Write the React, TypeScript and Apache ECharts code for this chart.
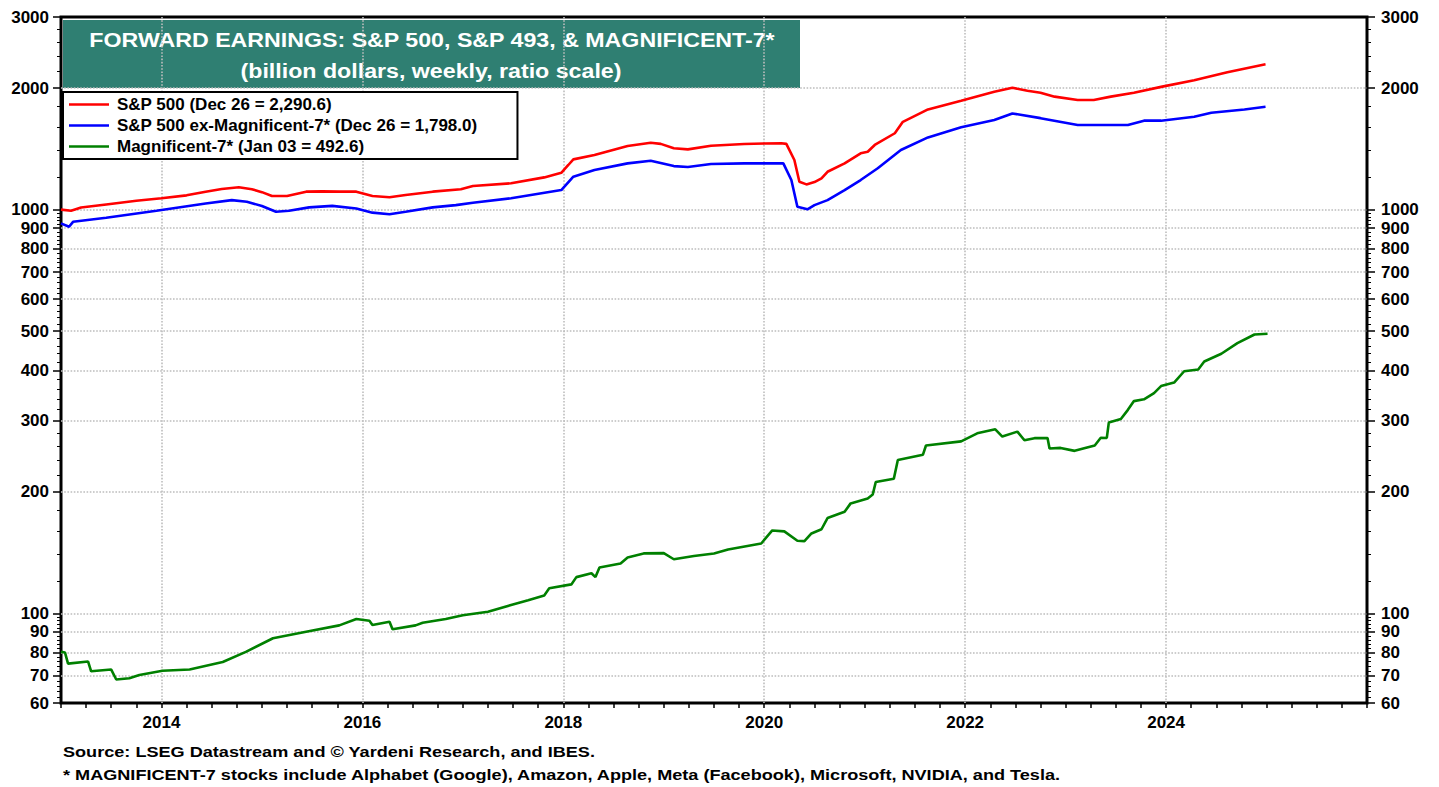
import React, { useEffect, useRef } from "react";
import * as echarts from "echarts";

// ---------- DATA (decimal years, billion dollars) ----------
const spxYears = [2013.0, 2013.1, 2013.2, 2013.45, 2013.75, 2014.0, 2014.25, 2014.44, 2014.6, 2014.77, 2014.9, 2015.0, 2015.1, 2015.25, 2015.44, 2015.6, 2015.77, 2015.94, 2016.1, 2016.27, 2016.43, 2016.7, 2016.98, 2017.1, 2017.48, 2017.81, 2017.98, 2018.05, 2018.1, 2018.31, 2018.64, 2018.87, 2018.97, 2019.1, 2019.24, 2019.47, 2019.8, 2020.0, 2020.17, 2020.22, 2020.3, 2020.35, 2020.42, 2020.5, 2020.57, 2020.63, 2020.8, 2020.96, 2021.03, 2021.1, 2021.3, 2021.38, 2021.63, 2021.96, 2022.29, 2022.47, 2022.62, 2022.75, 2022.89, 2023.12, 2023.28, 2023.45, 2023.68, 2023.95, 2024.28, 2024.61, 2024.99];
const spxValues = [1000, 994, 1012, 1030, 1052, 1067, 1085, 1108, 1125, 1136, 1123, 1105, 1081, 1081, 1108, 1110, 1108, 1108, 1081, 1073, 1087, 1108, 1123, 1144, 1162, 1202, 1234, 1290, 1332, 1365, 1438, 1464, 1455, 1419, 1410, 1440, 1454, 1458, 1460, 1455, 1327, 1172, 1155, 1170, 1195, 1241, 1302, 1379, 1391, 1446, 1546, 1650, 1771, 1860, 1958, 2003, 1970, 1948, 1905, 1869, 1869, 1905, 1948, 2014, 2091, 2190, 2290.6];

const exYears = [2013.0, 2013.08, 2013.12, 2013.45, 2013.95, 2014.44, 2014.7, 2014.85, 2015.0, 2015.14, 2015.27, 2015.47, 2015.7, 2015.94, 2016.1, 2016.27, 2016.43, 2016.7, 2016.93, 2017.1, 2017.48, 2017.98, 2018.1, 2018.31, 2018.64, 2018.87, 2019.1, 2019.24, 2019.47, 2019.8, 2020.19, 2020.27, 2020.33, 2020.43, 2020.5, 2020.63, 2020.8, 2020.96, 2021.13, 2021.36, 2021.63, 2021.96, 2022.29, 2022.47, 2022.75, 2023.12, 2023.45, 2023.62, 2023.78, 2023.95, 2024.28, 2024.45, 2024.78, 2024.99];
const exValues = [925, 907, 933, 955, 994, 1036, 1056, 1046, 1021, 988, 994, 1013, 1022, 1007, 983, 974, 988, 1013, 1026, 1040, 1067, 1118, 1207, 1253, 1302, 1322, 1282, 1275, 1297, 1302, 1302, 1184, 1017, 1002, 1026, 1056, 1118, 1184, 1266, 1405, 1510, 1599, 1667, 1731, 1685, 1621, 1621, 1621, 1661, 1661, 1699, 1737, 1771, 1798.0];

const magYears = [2013.0, 2013.04, 2013.07, 2013.27, 2013.3, 2013.5, 2013.55, 2013.68, 2013.78, 2014.01, 2014.28, 2014.61, 2014.84, 2015.11, 2015.44, 2015.77, 2015.94, 2016.07, 2016.1, 2016.27, 2016.3, 2016.53, 2016.6, 2016.83, 2017.0, 2017.25, 2017.48, 2017.65, 2017.81, 2017.86, 2018.08, 2018.13, 2018.28, 2018.32, 2018.36, 2018.57, 2018.64, 2018.8, 2019.0, 2019.1, 2019.3, 2019.5, 2019.64, 2019.97, 2020.08, 2020.2, 2020.33, 2020.4, 2020.47, 2020.57, 2020.63, 2020.8, 2020.86, 2021.03, 2021.08, 2021.11, 2021.29, 2021.33, 2021.58, 2021.61, 2021.96, 2022.12, 2022.3, 2022.37, 2022.52, 2022.59, 2022.69, 2022.82, 2022.84, 2022.95, 2023.09, 2023.29, 2023.35, 2023.41, 2023.43, 2023.55, 2023.62, 2023.68, 2023.78, 2023.88, 2023.95, 2024.08, 2024.18, 2024.32, 2024.38, 2024.55, 2024.71, 2024.88, 2025.01];
const magValues = [80.3, 80, 75.1, 76, 71.9, 72.6, 68.6, 69.1, 70.4, 72.1, 72.6, 75.8, 80.3, 86.8, 90.1, 93.4, 96.9, 95.9, 93.6, 95.4, 91.4, 93.4, 94.8, 96.9, 99, 101, 104.9, 107.8, 110.8, 115.4, 118, 123, 125.7, 123, 130, 133, 137.6, 140.8, 141, 136.2, 138.8, 140.8, 144, 149, 160.5, 159.7, 151.4, 151, 157.8, 161.6, 172.3, 178.5, 187.3, 192.6, 197, 211.5, 215.5, 240, 247.3, 260.5, 266.8, 279.3, 285.7, 274.1, 282, 268.4, 271.7, 272, 256.2, 257, 252.7, 260.5, 272.3, 272, 296.9, 303, 319.3, 335.6, 339, 351.3, 365.7, 373, 397.9, 401.7, 420.6, 439.6, 466.9, 490.7, 492.6];

const seriesNames = [
  "S&P 500 (Dec 26 = 2,290.6)",
  "S&P 500 ex-Magnificent-7* (Dec 26 = 1,798.0)",
  "Magnificent-7* (Jan 03 = 492.6)",
];
const seriesColors = ["#ff0000", "#0000ff", "#008000"];

const xMin = 2013;
const xMax = 2026;
const yMin = 60;
const yMax = 3000;
const yearLabels = [2014, 2016, 2018, 2020, 2022, 2024];
const yLabels = [60, 70, 80, 90, 100, 200, 300, 400, 500, 600, 700, 800, 900, 1000, 2000, 3000];
const yGrid = [70, 80, 90, 100, 200, 300, 400, 500, 600, 700, 800, 900, 1000, 2000];

const titleLine1 = "FORWARD EARNINGS: S&P 500, S&P 493, & MAGNIFICENT-7*";
const titleLine2 = "(billion dollars, weekly, ratio scale)";
const footLine1 = "Source: LSEG Datastream and \u00A9 Yardeni Research, and IBES.";
const footLine2 = "* MAGNIFICENT-7 stocks include Alphabet (Google), Amazon, Apple, Meta (Facebook), Microsoft, NVIDIA, and Tesla.";

// minor tick positions on the ratio scale
const yMinor: number[] = [];
for (let v = 62; v < 100; v += 2) if (!yLabels.includes(v)) yMinor.push(v);
for (let v = 120; v < 1000; v += 20) if (!yLabels.includes(v)) yMinor.push(v);
for (let v = 1200; v < 3000; v += 200) if (!yLabels.includes(v)) yMinor.push(v);

const FONT = 'Arial, "Liberation Sans", Helvetica, sans-serif';
const GRID_LINE = { color: "#bdbdbd", width: 1.6, type: "dotted" as const };

export default function App() {
  const ref = useRef<HTMLDivElement>(null);

  useEffect(() => {
    if (!ref.current) return;
    const chart = echarts.init(ref.current, undefined, { renderer: "svg" });

    const zip = (xs: number[], ys: number[]) => xs.map((x, i) => [x, ys[i]]);

    const baseY = {
      type: "log" as const,
      logBase: 10,
      min: yMin,
      max: yMax,
      splitLine: { show: false },
      axisLine: { show: false },
    };
    const labelStyle = {
      color: "#000",
      fontSize: 17,
      fontWeight: "bold" as const,
      fontFamily: FONT,
    };

    const hiddenParts = {
      axisLine: { show: false },
      axisTick: { show: false },
      axisLabel: { show: false },
      splitLine: { show: true, showMinLine: false, showMaxLine: false, lineStyle: GRID_LINE },
    };

    // Horizontal gridlines: a ratio-scale axis over the same 60..3000 range whose log base is
    // the gridline value, so its only interior tick (base^1) falls exactly on that value.
    const hGridAxes = yGrid.map((v) => ({
      type: "log" as const,
      logBase: v,
      min: yMin,
      max: yMax,
      splitNumber: 5,
      position: "left" as const,
      ...hiddenParts,
    }));

    // Vertical gridlines: for each labelled year, a helper ratio axis whose single interior
    // tick (10^1) sits at that year's fraction of the 2013..2026 span.
    const vGridAxes = yearLabels.map((yr) => {
      const f = (yr - xMin) / (xMax - xMin);
      const e0 = 1 - 0.9 * f;
      const e1 = 1 + 0.9 * (1 - f);
      return {
        type: "log" as const,
        logBase: 10,
        min: Math.pow(10, e0),
        max: Math.pow(10, e1),
        splitNumber: 5,
        position: "bottom" as const,
        ...hiddenParts,
      };
    });

    const lineSeries = (i: number, xs: number[], ys: number[]) => ({
      name: seriesNames[i],
      type: "line",
      xAxisIndex: 0,
      yAxisIndex: 0,
      data: zip(xs, ys),
      symbol: "none",
      showSymbol: false,
      lineStyle: { color: seriesColors[i], width: 2.6 },
      itemStyle: { color: seriesColors[i] },
      z: 3,
    });

    chart.setOption({
      animation: false,
      backgroundColor: "#ffffff",
      grid: {
        left: 61,
        right: 72,
        top: 17,
        bottom: 84,
        show: true,
        borderColor: "#000",
        borderWidth: 3,
      },
      legend: {
        orient: "vertical",
        left: 63,
        top: 92,
        itemWidth: 40,
        itemHeight: 14,
        itemGap: 4,
        padding: [4, 40, 4, 6],
        backgroundColor: "#fff",
        borderColor: "#000",
        borderWidth: 2,
        borderRadius: 0,
        selectedMode: false,
        symbolKeepAspect: true,
        data: seriesNames.map((name, i) => ({
          name,
          icon: "path://M0,0L40,0L40,2.6L0,2.6Z",
          itemStyle: { color: seriesColors[i] },
        })),
        textStyle: {
          color: "#000",
          fontSize: 17,
          fontWeight: "bold",
          fontFamily: FONT,
          padding: [0, 0, 0, 3],
        },
        z: 20,
      },
      xAxis: [
        {
          type: "value",
          min: xMin,
          max: xMax,
          interval: 0.25,
          position: "bottom",
          axisLine: { show: false },
          splitLine: { show: false },
          axisTick: { show: true, length: 5, inside: false, lineStyle: { color: "#000", width: 1.5 } },
          axisLabel: {
            ...labelStyle,
            customValues: yearLabels,
            formatter: (v: number) => String(Math.round(v)),
            margin: 11,
          },
        },
        ...vGridAxes,
      ],
      yAxis: [
        {
          ...baseY,
          position: "left",
          axisTick: { show: true, length: 8, customValues: yLabels, lineStyle: { color: "#000", width: 1.5 } },
          axisLabel: {
            ...labelStyle,
            customValues: yLabels,
            formatter: (v: number) => String(Math.round(v)),
            margin: 12,
          },
        },
        {
          ...baseY,
          position: "left",
          axisTick: { show: true, length: 4, customValues: yMinor, lineStyle: { color: "#000", width: 1 } },
          axisLabel: { show: false },
        },
        {
          ...baseY,
          position: "right",
          axisTick: { show: true, length: 8, customValues: yLabels, lineStyle: { color: "#000", width: 1.5 } },
          axisLabel: {
            ...labelStyle,
            customValues: yLabels,
            formatter: (v: number) => String(Math.round(v)),
            margin: 14,
          },
        },
        {
          ...baseY,
          position: "right",
          axisTick: { show: true, length: 4, customValues: yMinor, lineStyle: { color: "#000", width: 1 } },
          axisLabel: { show: false },
        },
        ...hGridAxes,
      ],
      series: [
        lineSeries(0, spxYears, spxValues),
        lineSeries(1, exYears, exValues),
        lineSeries(2, magYears, magValues),
      ],
      graphic: [
        {
          type: "group",
          z: 15,
          children: [
            {
              type: "rect",
              shape: { x: 63, y: 20, width: 737, height: 68 },
              style: { fill: "#2f7f72" },
            },
            {
              type: "text",
              x: 432,
              y: 40,
              scaleX: 1.16,
              style: {
                text: titleLine1,
                fill: "#fff",
                font: `bold 20px ${FONT}`,
                textAlign: "center",
                textVerticalAlign: "middle",
              },
            },
            {
              type: "text",
              x: 431,
              y: 71,
              scaleX: 1.16,
              style: {
                text: titleLine2,
                fill: "#fff",
                font: `bold 20px ${FONT}`,
                textAlign: "center",
                textVerticalAlign: "middle",
              },
            },
          ],
        },
        {
          type: "text",
          x: 63,
          y: 752,
          scaleX: 1.168,
          style: { text: footLine1, fill: "#000", font: `bold 15.5px ${FONT}`, textVerticalAlign: "middle" },
        },
        {
          type: "text",
          x: 63,
          y: 775,
          scaleX: 1.168,
          style: { text: footLine2, fill: "#000", font: `bold 15.5px ${FONT}`, textVerticalAlign: "middle" },
        },
      ],
    });

    return () => chart.dispose();
  }, []);

  return (
    <div
      ref={ref}
      style={{ position: "absolute", left: 0, top: 0, width: 1439, height: 787, background: "#fff" }}
    />
  );
}
